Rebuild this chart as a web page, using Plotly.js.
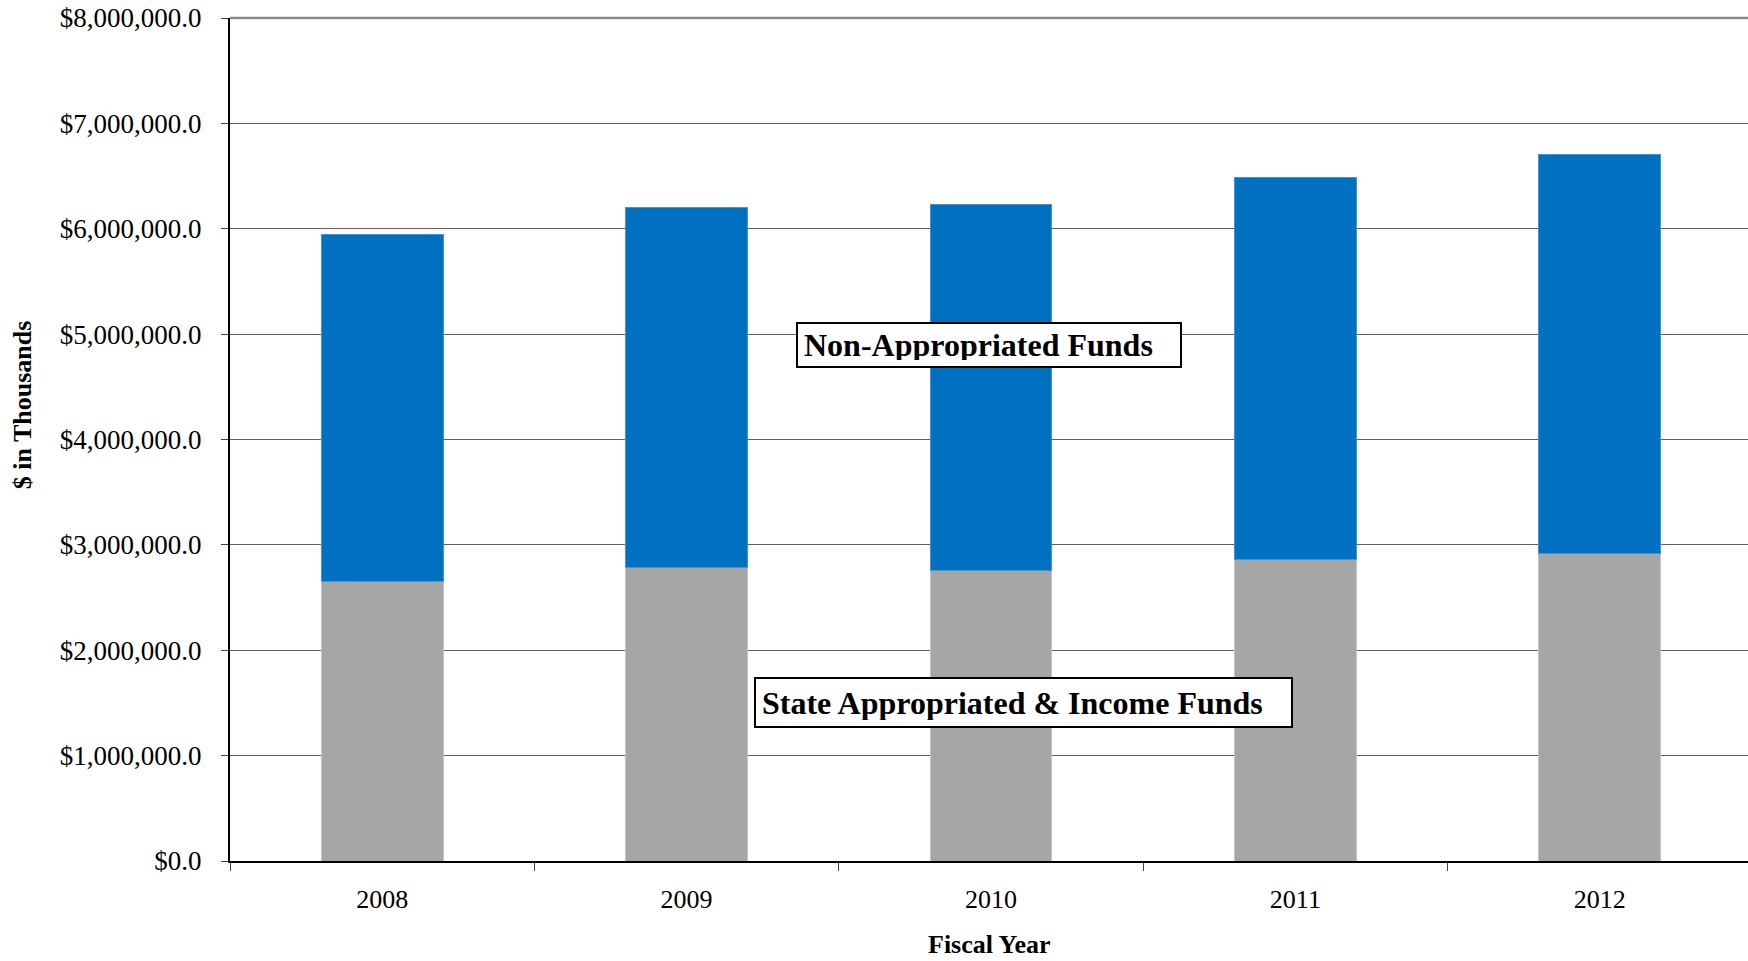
<!DOCTYPE html>
<html>
<head>
<meta charset="utf-8">
<script src="https://cdn.plot.ly/plotly-3.0.1.min.js"></script>
<style>html,body{margin:0;padding:0;background:#fff;}#chart{width:1748px;height:961px;}</style>
</head>
<body>
<div id="chart"></div>
<script>
const years = ['2008', '2009', '2010', '2011', '2012'];
const stateFunds = [2654000, 2787000, 2756000, 2862000, 2922000];
const nonAppropriated = [3294000, 3412000, 3477000, 3625000, 3785000];
const yTickVals = [0, 1000000, 2000000, 3000000, 4000000, 5000000, 6000000, 7000000, 8000000];
const yTickText = ['$0.0', '$1,000,000.0', '$2,000,000.0', '$3,000,000.0', '$4,000,000.0', '$5,000,000.0', '$6,000,000.0', '$7,000,000.0', '$8,000,000.0'];

const serif = '"Liberation Serif", "Times New Roman", serif';

const data = [
  {type: 'bar', x: years, y: stateFunds, name: 'State Appropriated & Income Funds',
   marker: {color: '#A6A6A6', line: {color: '#C4C4C4', width: 1}}, width: 0.4, hoverinfo: 'x+y'},
  {type: 'bar', x: years, y: nonAppropriated, name: 'Non-Appropriated Funds',
   marker: {color: '#0070C0', line: {color: '#4A94D0', width: 1}}, width: 0.4, hoverinfo: 'x+y'}
];

const layout = {
  width: 1748, height: 961,
  margin: {l: 230, r: 0, t: 18, b: 100, pad: 0},
  barmode: 'stack',
  showlegend: false,
  paper_bgcolor: '#ffffff', plot_bgcolor: '#ffffff',
  font: {family: serif, color: '#000'},
  xaxis: {
    type: 'category', range: [-0.5, 4.487],
    showline: true, linecolor: '#000', linewidth: 2,
    ticks: 'outside', tickson: 'boundaries', ticklen: 8, tickcolor: '#444', tickwidth: 1,
    tickfont: {family: serif, size: 26, color: '#000'},
    ticklabelstandoff: 14,
    showgrid: false, zeroline: false
  },
  yaxis: {
    range: [0, 8000000],
    tickvals: yTickVals, ticktext: yTickText,
    showline: true, linecolor: '#000', linewidth: 2,
    ticks: 'outside', ticklen: 7, tickcolor: '#444', tickwidth: 1,
    tickfont: {family: serif, size: 27, color: '#000'},
    ticklabelstandoff: 14,
    showgrid: true, gridcolor: '#5f5f5f', gridwidth: 1,
    zeroline: false
  },
  shapes: [
    {type: 'line', xref: 'paper', yref: 'paper', x0: 0, x1: 1, y0: 1, y1: 1,
     line: {color: '#8a8a8a', width: 2.5}}
  ],
  annotations: [
    {xref: 'paper', yref: 'paper', x: 0.5, y: (860.6 - 944) / 842.8, showarrow: false,
     text: '<b>Fiscal Year</b>', font: {family: serif, size: 26, color: '#000'},
     xanchor: 'center', yanchor: 'middle'},
    {xref: 'paper', yref: 'paper', x: (22 - 230) / 1518, y: (860.6 - 405) / 842.8, showarrow: false,
     text: '<b>$ in Thousands</b>', textangle: -90, font: {family: serif, size: 26, color: '#000'},
     xanchor: 'center', yanchor: 'middle'},
    {xref: 'paper', yref: 'paper', x: 0.5, y: 0.6118, showarrow: false,
     text: '<b>Non-Appropriated Funds</b>', font: {family: serif, size: 32, color: '#000'},
     align: 'left', width: 370, height: 30, borderpad: 6, borderwidth: 2, bordercolor: '#000',
     bgcolor: '#fff', xanchor: 'center', yanchor: 'middle'},
    {xref: 'paper', yref: 'paper', x: 0.5227, y: 0.1876, showarrow: false,
     text: '<b>State Appropriated & Income Funds</b>', font: {family: serif, size: 32, color: '#000'},
     align: 'left', width: 523, height: 35, borderpad: 6, borderwidth: 2, bordercolor: '#000',
     bgcolor: '#fff', xanchor: 'center', yanchor: 'middle'}
  ]
};

Plotly.newPlot('chart', data, layout, {displayModeBar: false, staticPlot: true});
</script>
</body>
</html>
